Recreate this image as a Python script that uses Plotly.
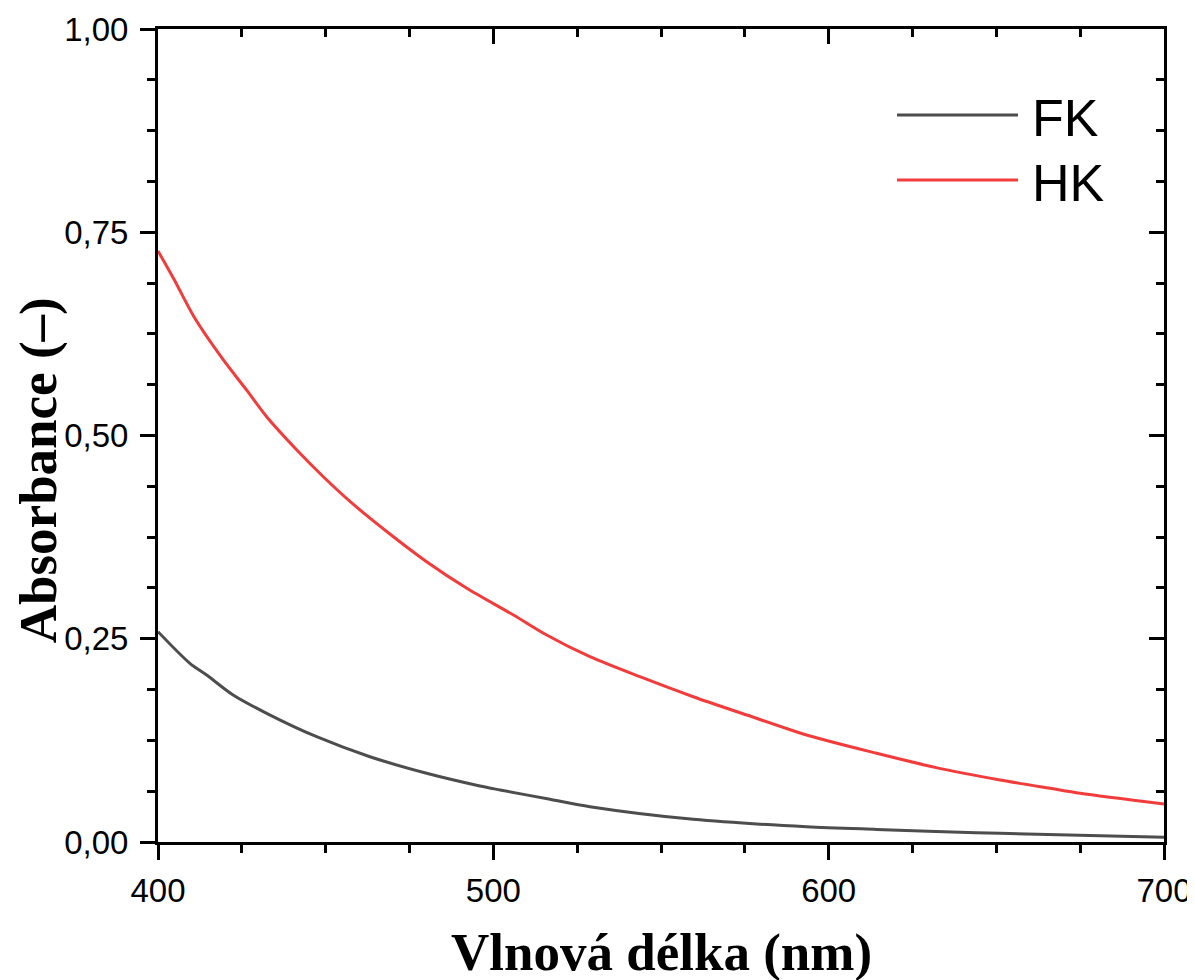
import plotly.graph_objects as go

wl_hk = [400, 404.6, 411.0, 419.5, 426.5, 432.4, 441.4, 449.3, 458.2, 470.2, 480.1, 492.1,
         506.0, 515.9, 528.8, 543.7, 559.6, 575.6, 593.4, 614.3, 632, 651.1, 666.0, 675, 700]
hk = [0.727, 0.6934, 0.6442, 0.5929, 0.5555, 0.5231, 0.4822, 0.4493, 0.4155, 0.3755, 0.3448, 0.3121,
      0.2792, 0.2546, 0.2279, 0.2033, 0.1787, 0.1562, 0.1316, 0.1091, 0.0915, 0.0763,
      0.066, 0.0599, 0.0467]

wl_fk = [400, 409.5, 414.5, 422.4, 432.4, 447.3, 463.2, 480.1, 496.0, 502.0, 516.9, 528.8,
         559.6, 593.4, 614.3, 632, 651.1, 700]
fk = [0.2587, 0.2198, 0.2054, 0.1808, 0.1583, 0.1295, 0.1049, 0.0845, 0.0689, 0.064, 0.0525,
      0.0434, 0.0279, 0.0188, 0.0155, 0.013, 0.0107, 0.0058]

series_names = ["FK", "HK"]
series_colors = ["#4d4d4d", "#f23c3c"]

fig = go.Figure()
fig.add_trace(go.Scatter(x=wl_fk, y=fk, mode="lines", name="FK", showlegend=False,
                         line=dict(color=series_colors[0], width=3, shape="spline", smoothing=0.8)))
fig.add_trace(go.Scatter(x=wl_hk, y=hk, mode="lines", name="HK", showlegend=False,
                         line=dict(color=series_colors[1], width=3, shape="spline", smoothing=0.8)))

tickfont = dict(family="Liberation Sans, Arial", size=33, color="black")

fig.update_layout(
    width=1195, height=980,
    margin=dict(l=150, r=39, t=21, b=146),
    paper_bgcolor="white", plot_bgcolor="white",
    separators=", ",
    xaxis=dict(range=[400, 700], dtick=100, tick0=400, showgrid=False, zeroline=False,
               automargin=False,
               showline=True, linecolor="black", linewidth=3, ticks="outside", ticklen=15,
               tickwidth=3, tickcolor="black", tickfont=tickfont, ticklabelstandoff=2,
               minor=dict(ticks="outside", ticklen=8, tickwidth=3, tickcolor="black", dtick=25)),
    yaxis=dict(range=[0, 1], dtick=0.25, tick0=0, tickformat=".2f", showgrid=False, zeroline=False,
               automargin=False,
               showline=True, linecolor="black", linewidth=3, ticks="outside", ticklen=15,
               tickwidth=3, tickcolor="black", tickfont=tickfont, ticklabelstandoff=5,
               minor=dict(ticks="outside", ticklen=8, tickwidth=3, tickcolor="black", dtick=0.0625)),
    xaxis2=dict(range=[400, 700], overlaying="x", side="top", dtick=100, tick0=400,
                automargin=False,
                showgrid=False, zeroline=False, showline=True, linecolor="black", linewidth=3,
                ticks="inside", ticklen=15, tickwidth=3, tickcolor="black", showticklabels=False,
                minor=dict(ticks="inside", ticklen=8, tickwidth=3, tickcolor="black", dtick=25)),
    yaxis2=dict(range=[0, 1], overlaying="y", side="right", dtick=0.25, tick0=0,
                automargin=False,
                showgrid=False, zeroline=False, showline=True, linecolor="black", linewidth=3,
                ticks="inside", ticklen=15, tickwidth=3, tickcolor="black", showticklabels=False,
                minor=dict(ticks="inside", ticklen=8, tickwidth=3, tickcolor="black", dtick=0.0625)),
)
# invisible trace to activate secondary axes (mirrored inside ticks)
fig.add_trace(go.Scatter(x=[400], y=[0], xaxis="x2", yaxis="y2", mode="markers",
                         marker=dict(opacity=0), showlegend=False, hoverinfo="skip"))

titlefont = dict(family="Liberation Serif, Times New Roman", size=53, color="black")
fig.add_annotation(text="<b>Vlnová délka (nm)</b>", xref="paper", yref="paper", x=0.5, y=-0.136,
                   showarrow=False, font=titlefont, xanchor="center", yanchor="middle")
fig.add_annotation(text="<b>Absorbance (–)</b>", xref="paper", yref="paper", x=-0.118, y=0.4576,
                   showarrow=False, font=titlefont, textangle=-90, xanchor="center", yanchor="middle")

# manual legend
leg_y = [0.8942, 0.8143]
for name, color, ly in zip(series_names, series_colors, leg_y):
    fig.add_shape(type="line", xref="paper", yref="paper", x0=0.7346, x1=0.8549, y0=ly, y1=ly,
                  line=dict(color=color, width=3))
    fig.add_annotation(text=name, xref="paper", yref="paper", x=0.8668, y=ly - 0.004,
                       showarrow=False, xanchor="left", yanchor="middle",
                       font=dict(family="Liberation Sans, Arial", size=52, color="black"))

fig.write_html("out.html")
